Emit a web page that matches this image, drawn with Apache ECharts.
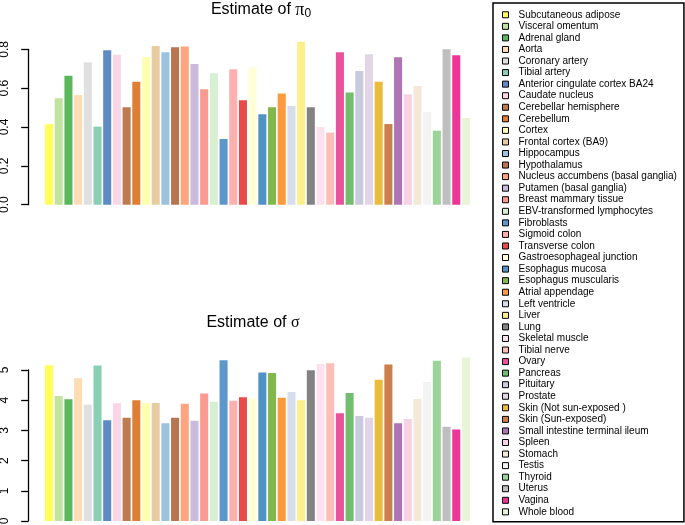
<!DOCTYPE html>
<html>
<head>
<meta charset="utf-8">
<script src="https://cdn.jsdelivr.net/npm/echarts@6/dist/echarts.min.js"></script>
<style>html,body{margin:0;padding:0;background:#fff}#c{width:685px;height:525px}</style>
</head>
<body>
<div id="c"></div>
<script>
const tissues = ["Subcutaneous adipose","Visceral omentum","Adrenal gland","Aorta","Coronary artery","Tibial artery","Anterior cingulate cortex BA24","Caudate nucleus","Cerebellar hemisphere","Cerebellum","Cortex","Frontal cortex (BA9)","Hippocampus","Hypothalamus","Nucleus accumbens (basal ganglia)","Putamen (basal ganglia)","Breast mammary tissue","EBV-transformed lymphocytes","Fibroblasts","Sigmoid colon","Transverse colon","Gastroesophageal junction","Esophagus mucosa","Esophagus muscularis","Atrial appendage","Left ventricle","Liver","Lung","Skeletal muscle","Tibial nerve","Ovary","Pancreas","Pituitary","Prostate","Skin (Not sun-exposed )","Skin (Sun-exposed)","Small intestine terminal ileum","Spleen","Stomach","Testis","Thyroid","Uterus","Vagina","Whole blood"];
const colors = ["#FFFF55","#C2E3A0","#5AB75A","#FFDDB4","#E0E0E0","#88CFB4","#5E8BC2","#FAD5E8","#C07A50","#E07F33","#FFFFB0","#E8CBA0","#9BC3DD","#B87550","#FFA57E","#CABBDC","#FB9A8E","#D7EFD3","#5B97C8","#FDB0AE","#E84A4B","#FFFFD7","#4F92C3","#82B84B","#FD9A3E","#D6DDEC","#FFEF8C","#838383","#FDE1EE","#FBBFB7","#E8539C","#72BE6E","#CACADF","#E3D5E7","#EBBB3C","#CE7E48","#AE75B4","#F6D3E4","#F4E8D9","#F3F3F3","#9BD499","#BFBFBF","#EF3497","#E8F5D6"];
const pi0 = [0.414,0.548,0.664,0.565,0.733,0.402,0.795,0.771,0.501,0.633,0.760,0.817,0.785,0.810,0.814,0.724,0.594,0.676,0.338,0.697,0.537,0.707,0.465,0.501,0.572,0.508,0.839,0.501,0.400,0.371,0.785,0.577,0.688,0.774,0.633,0.415,0.759,0.568,0.611,0.477,0.381,0.800,0.769,0.446];
const sigma = [5.16,4.14,4.03,4.73,3.85,5.15,3.34,3.90,3.42,4.00,3.90,3.91,3.24,3.42,3.88,3.32,4.22,3.95,5.32,3.98,4.10,4.05,4.92,4.90,4.08,4.27,4.00,4.99,5.20,5.22,3.57,4.24,3.48,3.42,4.68,5.18,3.24,3.38,4.04,4.60,5.31,3.12,3.03,5.41];
const pi0Ticks = {min:0, max:0.8, interval:0.2};
const sigmaTicks = {min:0, max:5, interval:1};

const FONT = 'Liberation Sans, Arial, sans-serif';
const L = 44.2, R = 685 - 470.8;
const grids = [
  {left:L, right:R, top:29.8, height:174.9},
  {left:L, right:R, top:49.3, height:155.4},
  {left:L, right:R, top:354.9, height:166.1},
  {left:L, right:R, top:370, height:151}
].map(g => Object.assign({containLabel:false, outerBoundsMode:'none'}, g));

const xAxes = [0,1,2,3].map(i => ({type:'category', gridIndex:i, data:tissues.map((t,k)=>k), show:false, boundaryGap:true}));
function axisY(gi, t, fmt){
  return {type:'value', gridIndex:gi, min:t.min, max:t.max, interval:t.interval, offset:16,
    splitLine:{show:false},
    axisLine:{show:true, lineStyle:{color:'#000', width:1.3}},
    axisTick:{show:true, length:7, lineStyle:{color:'#000', width:1.3}},
    axisLabel:{show:true, rotate:90, margin:18, color:'#000', fontSize:12, fontFamily:FONT, formatter:fmt}};
}
const hiddenY = (gi, max) => ({type:'value', gridIndex:gi, min:0, max:max, show:false, splitLine:{show:false}});
const yAxes = [
  hiddenY(0, 0.9),
  axisY(1, pi0Ticks, v => v.toFixed(1)),
  hiddenY(2, 5.5),
  axisY(3, sigmaTicks, v => String(v))
];

const series = [];
function addSeries(vals, axisIdx, stack){
  tissues.forEach((name, i) => {
    const d = vals.map((v, k) => k === i ? v : '-');
    series.push({type:'bar', name:name, xAxisIndex:axisIdx, yAxisIndex:axisIdx, stack:stack,
      data:d, barCategoryGap:'17%', itemStyle:{color:colors[i]}, emphasis:{disabled:true}, animation:false});
  });
}
addSeries(pi0, 0, 'a');
addSeries(sigma, 2, 'b');

const tok = (size, fam) => ({fontSize:size, fontFamily:fam, fontWeight:'normal', color:'#000', lineHeight:20});
const chart = echarts.init(document.getElementById('c'), null, {renderer:'canvas'});
chart.setOption({
  backgroundColor:'#fff',
  animation:false,
  title:[
    {text:'{a|Estimate of }{p|π}{s|0}', left:261, top:0, textAlign:'center', padding:0,
      textStyle:{fontWeight:'normal', rich:{
        a:tok(16, FONT),
        p:tok(18, 'Liberation Serif, serif'),
        s:{fontSize:12, fontFamily:FONT, fontWeight:'normal', color:'#000', lineHeight:12, verticalAlign:'bottom'}}}},
    {text:'{a|Estimate of }{p|σ}', left:253, top:313, textAlign:'center', padding:0,
      textStyle:{fontWeight:'normal', rich:{
        a:tok(16, FONT),
        p:tok(16, 'Liberation Serif, serif')}}}
  ],
  legend:{
    data:tissues, orient:'vertical', left:493, top:3, padding:[6,7,4,9],
    itemWidth:6, itemHeight:6, itemGap:0, icon:'rect', selectedMode:false,
    itemStyle:{borderColor:'#000', borderWidth:1},
    textStyle:{fontSize:10, fontFamily:FONT, color:'#000', lineHeight:11.56, padding:[0,0,0,5]},
    borderColor:'#000', borderWidth:1.5, backgroundColor:'#fff'
  },
  grid:grids, xAxis:xAxes, yAxis:yAxes, series:series
});
</script>
</body>
</html>
